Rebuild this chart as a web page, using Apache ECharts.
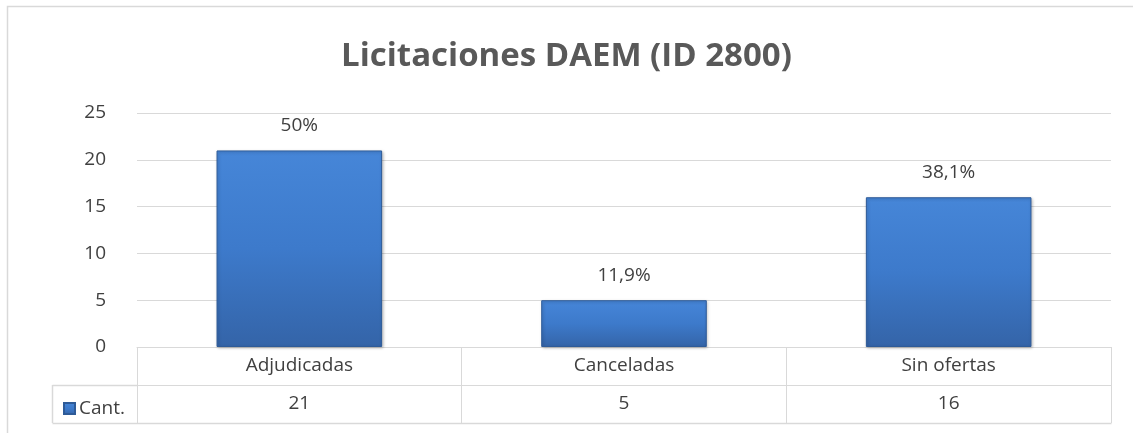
<!DOCTYPE html>
<html>
<head>
<meta charset="utf-8">
<script src="https://cdn.jsdelivr.net/npm/echarts@6/dist/echarts.min.js"></script>
<style>
  html, body { margin: 0; padding: 0; background: #fff; }
  #chart { width: 1133px; height: 433px; }
</style>
</head>
<body>
<div id="chart"></div>
<script>
const categories = ['Adjudicadas', 'Canceladas', 'Sin ofertas']
const counts = [21, 5, 16]
const pctLabels = ['50%', '11,9%', '38,1%']
const yTicks = { min: 0, max: 25, interval: 5 }

const FONT = '"Open Sans", "Noto Sans", sans-serif'
const GRID = { left: 137, right: 22, top: 113, bottom: 86 }
const LINE = '#d9d9d9'
const TEXT = '#404040'
const FS = 19

const barFill = new echarts.graphic.LinearGradient(0, 0, 0, 1, [
  { offset: 0, color: '#4686d8' },
  { offset: 0.5, color: '#3d7acb' },
  { offset: 1, color: '#3464a8' },
])

const chart = echarts.init(document.getElementById('chart'), null, { renderer: 'canvas' })

const x0 = GRID.left, x1 = 1133 - GRID.right
const yAxisLine = 433 - GRID.bottom
const row = 38

chart.setOption({
  animation: false,
  title: {
    text: 'Licitaciones DAEM (ID 2800)',
    left: 'center',
    top: 35,
    textStyle: { fontFamily: FONT, fontSize: 33, fontWeight: 'bold', color: '#595959' },
  },
  grid: GRID,
  legend: {
    data: ['Cant.'],
    left: 58,
    top: yAxisLine + row + 9,
    itemWidth: 11, itemHeight: 11, itemGap: 4,
    icon: 'rect',
    textStyle: { fontFamily: FONT, fontSize: FS, color: TEXT, padding: [0, 0, 0, -1] },
  },
  xAxis: [
    {
      type: 'category',
      data: categories,
      axisLine: { show: true, lineStyle: { color: LINE, width: 1 } },
      axisTick: { show: true, length: row * 2, lineStyle: { color: LINE, width: 1 } },
      axisLabel: { fontFamily: FONT, fontSize: FS, color: TEXT, margin: 9 },
    },
    {
      type: 'category',
      data: categories,
      position: 'bottom',
      offset: row,
      axisLine: { show: true, lineStyle: { color: LINE, width: 1 } },
      axisTick: { show: false },
      axisLabel: {
        fontFamily: FONT, fontSize: FS, color: TEXT, margin: 9,
        formatter: (v, i) => String(counts[i]),
      },
    },
  ],
  yAxis: {
    type: 'value',
    min: yTicks.min, max: yTicks.max, interval: yTicks.interval,
    axisLine: { show: false },
    axisTick: { show: false },
    axisLabel: { fontFamily: FONT, fontSize: FS, color: TEXT, margin: 31 },
    splitLine: { lineStyle: { color: LINE, width: 1 } },
  },
  series: [{
    name: 'Cant.',
    type: 'bar',
    data: counts,
    barWidth: '51%',
    itemStyle: {
      color: barFill,
      borderColor: '#2e5b98',
      borderWidth: 1,
      shadowColor: 'rgba(0,0,0,0.25)',
      shadowBlur: 3,
      shadowOffsetX: 1,
      shadowOffsetY: 1,
    },
    label: {
      show: true,
      position: 'top',
      distance: 15,
      fontFamily: FONT, fontSize: FS, color: TEXT,
      formatter: p => pctLabels[p.dataIndex],
    },
  }],
  graphic: [
    // outer chart frame
    { type: 'rect', shape: { x: 7.5, y: 6.5, width: 1200, height: 500 },
      style: { fill: 'none', stroke: LINE, lineWidth: 1.5 }, silent: true },
    // legend cell of the data table
    { type: 'line', shape: { x1: 52.5, y1: yAxisLine + row + 0.5, x2: x0, y2: yAxisLine + row + 0.5 },
      style: { stroke: LINE, lineWidth: 1.5 } },
    { type: 'line', shape: { x1: 52.5, y1: yAxisLine + row * 2 + 0.5, x2: x1 + 0.5, y2: yAxisLine + row * 2 + 0.5 },
      style: { stroke: LINE, lineWidth: 1.5 } },
    { type: 'line', shape: { x1: 52.5, y1: yAxisLine + row, x2: 52.5, y2: yAxisLine + row * 2 },
      style: { stroke: LINE, lineWidth: 1.5 } },
  ],
})
</script>
</body>
</html>
